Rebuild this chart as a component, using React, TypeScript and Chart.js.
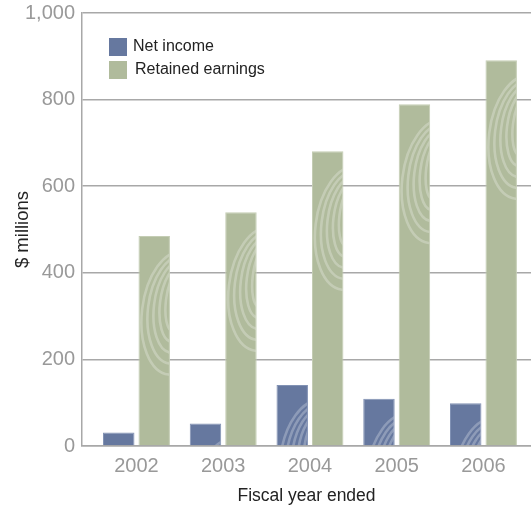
import React, { useEffect, useRef } from "react";
import { Chart, registerables } from "chart.js";

Chart.register(...registerables);

const years = [2002, 2003, 2004, 2005, 2006];
const netIncome = [31, 52, 141, 109, 99];
const retainedEarnings = [485, 540, 681, 789, 891];
const yTicks = [0, 200, 400, 600, 800, 1000];

const FONT = "'Liberation Sans', Arial, sans-serif";
const BLUE = "#66789f";
const GREEN = "#b0bb9c";

const legendPlugin = {
  id: "insideLegend",
  afterDraw(chart: any) {
    const ctx = chart.ctx;
    const x0 = chart.chartArea.left + 27;
    const y0 = chart.chartArea.top + 25;
    ctx.save();
    ctx.font = `16px ${FONT}`;
    ctx.textBaseline = "middle";
    chart.data.datasets.forEach((ds: any, i: number) => {
      const y = y0 + i * 23;
      ctx.fillStyle = ds.backgroundColor;
      ctx.fillRect(x0, y, 18, 18);
      ctx.fillStyle = "#222";
      ctx.fillText(ds.label, x0 + 24 + i * 2, y + 9);
    });
    ctx.restore();
  },
};

// decorative light swoosh texture inside each bar
const swooshPlugin = {
  id: "swoosh",
  afterDatasetsDraw(chart: any) {
    const ctx = chart.ctx;
    chart.data.datasets.forEach((_: any, di: number) => {
      const meta = chart.getDatasetMeta(di);
      meta.data.forEach((bar: any) => {
        const { x, y, base, width } = bar.getProps(["x", "y", "base", "width"], true);
        const L = x - width / 2;
        const R = x + width / 2;
        ctx.save();
        ctx.beginPath();
        ctx.rect(L + 1, y + 1, width - 2, base - y - 1);
        ctx.clip();
        ctx.strokeStyle = "rgba(255,255,255,0.26)";
        ctx.lineWidth = 2.6;
        ctx.lineCap = "round";
        const cx = R + 6;
        const cy = y + 15 + 62;
        for (let k = 0; k < 5; k++) {
          const rx = 34 - k * 6;
          const ry = 62 - k * 8;
          ctx.beginPath();
          ctx.ellipse(cx, cy - k * 3, rx, ry, 0.12, -Math.PI / 2, Math.PI / 2 - k * 0.12, true);
          ctx.stroke();
        }
        ctx.restore();
      });
    });
  },
};

export default function App() {
  const ref = useRef<HTMLCanvasElement>(null);
  useEffect(() => {
    if (!ref.current) return;
    const chart = new Chart(ref.current, {
      type: "bar",
      data: {
        datasets: [
          {
            label: "Net income",
            data: years.map((y, i) => ({ x: y, y: netIncome[i] })),
            backgroundColor: BLUE,
            borderColor: "#8292b4",
            borderWidth: 1,
            categoryPercentage: 0.818,
            barPercentage: 0.887,
          },
          {
            label: "Retained earnings",
            data: years.map((y, i) => ({ x: y, y: retainedEarnings[i] })),
            backgroundColor: GREEN,
            borderColor: "#c4cdb4",
            borderWidth: 1,
            categoryPercentage: 0.818,
            barPercentage: 0.887,
          },
        ],
      },
      options: {
        animation: false,
        responsive: false,
        layout: { padding: { top: 13, right: 0, left: 0, bottom: 0 } },
        plugins: { legend: { display: false }, tooltip: { enabled: false } },
        scales: {
          x: {
            type: "linear",
            min: 2001.372,
            max: 2006.548,
            offset: false,
            grid: { display: false },
            border: { display: true, color: "#a8a8a8", width: 1.5 },
            ticks: {
              stepSize: 1,
              includeBounds: false,
              padding: 0,
              color: "#999",
              font: { family: FONT, size: 20 },
              callback: (v: any) => String(v),
            },
            title: {
              display: true,
              text: "Fiscal year ended",
              color: "#222",
              font: { family: FONT, size: 17.5, lineHeight: 1 },
              padding: { top: 0, bottom: 0 },
            },
            afterFit: (s: any) => {
              s.height = 59;
              s.paddingLeft = 0;
              s.paddingRight = 0;
            },
          },
          y: {
            min: 0,
            max: 1000,
            grid: { color: "#a8a8a8", lineWidth: 1.5, drawTicks: false },
            border: { display: true, color: "#a8a8a8", width: 1.5 },
            afterBuildTicks: (s: any) => {
              s.ticks = yTicks.map((v) => ({ value: v }));
            },
            ticks: {
              padding: 7,
              color: "#999",
              font: { family: FONT, size: 20 },
              callback: (v: any) => Number(v).toLocaleString("en-US"),
            },
            title: {
              display: true,
              text: "$ millions",
              color: "#222",
              font: { family: FONT, size: 18.5 },
              padding: { top: 12, bottom: 0 },
            },
            afterFit: (s: any) => {
              s.width = 82;
              s.paddingTop = 0;
              s.paddingBottom = 0;
            },
          },
        },
      },
      plugins: [swooshPlugin, legendPlugin],
    });
    return () => chart.destroy();
  }, []);
  return (
    <canvas
      ref={ref}
      width={531}
      height={505}
      style={{ position: "absolute", left: 0, top: 0 }}
    />
  );
}
